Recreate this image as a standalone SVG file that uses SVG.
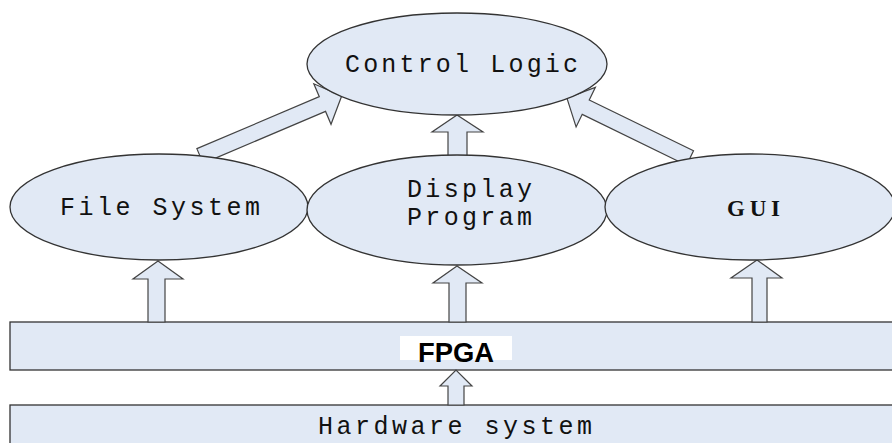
<svg xmlns="http://www.w3.org/2000/svg" width="892" height="443" viewBox="0 0 892 443">
  <style>
    .node { fill: #e1e9f5; stroke: #333; stroke-width: 1.3; }
    .arrow { fill: #e1e9f5; stroke: #444; stroke-width: 1.2; stroke-linejoin: miter; }
    .mono { font-family: "Liberation Mono", "DejaVu Sans Mono", monospace; font-size: 25px; fill: #111; }
    .serif { font-family: "Liberation Serif", "Times New Roman", serif; font-size: 23px; font-weight: bold; fill: #111; }
    .fpga { font-family: "Liberation Sans Narrow", "Liberation Sans", Arial, sans-serif; font-weight: bold; font-size: 28px; fill: #000; }
  </style>
  <rect width="892" height="443" fill="#ffffff"/>

  <g id="hardware">
    <rect class="node" x="10" y="405" width="890" height="50"/>
    <text class="mono" x="318" y="434" textLength="274" lengthAdjust="spacing">Hardware system</text>
  </g>

  <g id="fpga">
    <rect class="node" x="10" y="322" width="890" height="48"/>
    <rect x="400" y="336" width="112" height="24" fill="#ffffff"/>
    <text class="fpga" x="418" y="362" textLength="76" lengthAdjust="spacingAndGlyphs">FPGA</text>
  </g>

  <g id="connectors">
    <polygon class="arrow" points="448,405 448,386 440,386 456,370 472,386 464,386 464,405"/>
    <polygon class="arrow" points="148,322 148,279 133,279 158,261 183,279 165,279 165,322"/>
    <polygon class="arrow" points="449,322 449,283 433,283 457,266 482,283 466,283 466,322"/>
    <polygon class="arrow" points="752,322 752,278 731,278 757,260 782,278 767,278 767,322"/>
    <polygon class="arrow" points="448,156 448,132 432,132 457,115 483,132 467,132 467,156"/>
    <polygon class="arrow" transform="translate(200,156) rotate(-23)" points="0,-8 133,-8 133,-22 154,0 133,22 133,8 0,8"/>
    <polygon class="arrow" transform="translate(690,158) rotate(-154)" points="0,-8 116,-8 116,-22 137,0 116,22 116,8 0,8"/>
  </g>

  <g id="control-logic">
    <ellipse class="node" cx="457" cy="64" rx="150" ry="51"/>
    <text class="mono" x="345" y="72" textLength="233" lengthAdjust="spacing">Control Logic</text>
  </g>

  <g id="file-system">
    <ellipse class="node" cx="159" cy="207" rx="149" ry="53"/>
    <text class="mono" x="60" y="215" textLength="200" lengthAdjust="spacing">File System</text>
  </g>

  <g id="display-program">
    <ellipse class="node" cx="457" cy="210" rx="150" ry="55"/>
    <text class="mono" x="407" y="197" textLength="125" lengthAdjust="spacing">Display</text>
    <text class="mono" x="407" y="225" textLength="125" lengthAdjust="spacing">Program</text>
  </g>

  <g id="gui">
    <ellipse class="node" cx="750" cy="207" rx="145" ry="53"/>
    <text class="serif" x="727" y="216" textLength="53" lengthAdjust="spacing">GUI</text>
  </g>
</svg>
